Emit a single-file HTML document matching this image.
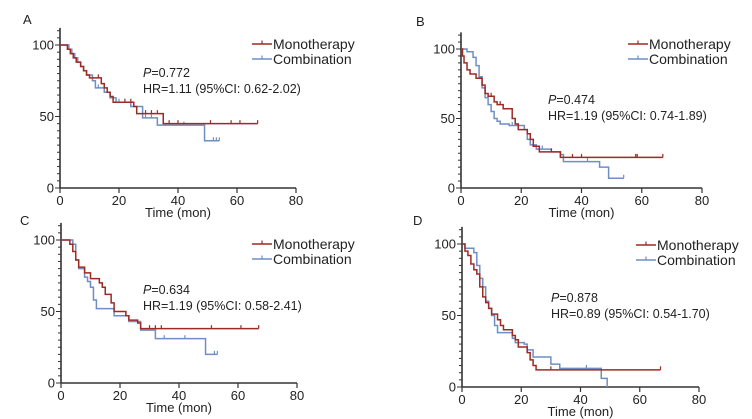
<!DOCTYPE html>
<html><head><meta charset="utf-8"><style>
body{margin:0;background:#fff}
svg{display:block;font-family:"Liberation Sans",sans-serif}
</style></head><body>
<svg id="c" width="752" height="419" viewBox="0 0 752 419"></svg>
<script>
const xTicks=[0,20,40,60,80];
const yTicks=[0,50,100];
const panelLabels=["A","B","C","D"];
const pValues=["0.772","0.474","0.634","0.878"];
const hrTexts=["HR=1.11 (95%CI: 0.62-2.02)","HR=1.19 (95%CI: 0.74-1.89)","HR=1.19 (95%CI: 0.58-2.41)","HR=0.89 (95%CI: 0.54-1.70)"];
const monoA=[[0,100],[2.5,97],[3.5,94],[4.5,91],[5.5,88],[7,85],[8,82],[9,79],[10,77],[14,73],[15,70],[16,67],[17,64],[18,60],[25,57],[26,52],[35,45],[67,45]];
const monoACens=[13,22,24,29,31,33,37,40,51,58,61,67];
const combA=[[0,100],[3,97],[4,94],[5,91],[6,88],[7,85],[8,82],[9,79],[11,75],[12,70],[15,67],[17,63],[19,60],[24,57],[28,49],[33,44],[49,33],[54,33]];
const combACens=[13,20,29,31,42,52,53,54];
const monoB=[[0,100],[0.5,95],[1,90],[2,85],[3,82],[5,79],[7,74],[8,68],[9,66],[11,62],[12,60],[14,57],[17,50],[18,46],[19,42],[22,39],[23,35],[24,30],[26,26],[33,22],[67,22]];
const monoBCens=[10,13,30,33,37,40,58,58.5,67];
const combB=[[0,100],[2,98],[4,94],[5,88],[6,80],[7,72],[8,65],[9,60],[10,55],[11,50],[12,48],[13,46],[16,45],[21,42],[22,35],[23,31],[25,28],[30,26],[33,24],[34,19],[46,15],[49,7],[54,7]];
const combBCens=[17,27,42,54];
const monoC=[[0,100],[3,97],[4,92],[5,86],[6,81],[8,77],[10,73],[13,70],[14,67],[15,62],[17,56],[18,50],[22,47],[23,44],[26,42],[27,38],[67,38]];
const monoCCens=[22,30,32,34,51,61,67];
const combC=[[0,100],[4,97],[5,86],[6,80],[8,74],[9,71],[10,67],[11,58],[12,52],[18,47],[23,43],[27,37],[32,31],[49,20],[53,20]];
const combCCens=[4,10,35,42,52,53];
const monoD=[[0,100],[1,95],[2,92],[3,86],[4,82],[5,79],[6,70],[7,63],[8,59],[9,55],[10,51],[12,47],[13,43],[14,40],[17,36],[18,33],[19,28],[22,24],[23,19],[24,15],[25,12],[67,12]];
const monoDCens=[30,67];
const combD=[[0,100],[1,97],[4,94],[5,85],[6,76],[7,70],[8,60],[9,55],[10,50],[11,43],[12,38],[17,34],[18,31],[21,30],[22,26],[24,21],[30,16],[33,13],[47,6],[49,0]];
const combDCens=[42];

const panels=[
 {x0:60,x1:296,y0:188,y1:45,lab:[23,24],leg:[252,44],st:[143,77],mono:monoA,mc:monoACens,comb:combA,cc:combACens},
 {x0:461,x1:702,y0:188,y1:49,lab:[416,26],leg:[628,44],st:[548,104],mono:monoB,mc:monoBCens,comb:combB,cc:combBCens},
 {x0:61,x1:297,y0:383,y1:240,lab:[20,225],leg:[252,244],st:[143,294],mono:monoC,mc:monoCCens,comb:combC,cc:combCCens},
 {x0:462,x1:699,y0:387,y1:244,lab:[413,225],leg:[636,245],st:[551,302],mono:monoD,mc:monoDCens,comb:combD,cc:combDCens}
];
const NS="http://www.w3.org/2000/svg";
const svg=document.getElementById('c');
function mk(t,a,p){const e=document.createElementNS(NS,t);for(const k in a)e.setAttribute(k,a[k]);(p||svg).appendChild(e);return e;}
const RED="#9e2a24",BLUE="#6f8fc4";
panels.forEach((P,i)=>{
 const sx=v=>P.x0+(P.x1-P.x0)*v/80;
 const sy=v=>P.y0+(P.y1-P.y0)*v/100;
 const g=mk('g',{});
 
 
 const lab=mk('text',{x:P.lab[0],y:P.lab[1],'font-size':13,fill:'#222'},g);lab.textContent=panelLabels[i];
 
 const ya=mk('line',{x1:P.x0,x2:P.x0,y1:P.y0,y2:sy(112),stroke:'#333','stroke-width':1.6},g);
 
 for(let v=0;v<=110;v+=5){mk('line',{x1:P.x0-(v%50==0?5:3),x2:P.x0,y1:sy(v),y2:sy(v),stroke:'#333','stroke-width':1},g);}
 yTicks.forEach(v=>{const t=mk('text',{x:P.x0-6,y:sy(v)+4.5,'font-size':13,'text-anchor':'end',fill:'#222'},g);t.textContent=v;
  });
 const xa=mk('line',{x1:P.x0,x2:P.x1,y1:P.y0,y2:P.y0,stroke:'#333','stroke-width':1.6},g);
 
 xTicks.forEach(v=>{mk('line',{x1:sx(v),x2:sx(v),y1:P.y0,y2:P.y0+5,stroke:'#333','stroke-width':1.2},g);
  const t=mk('text',{x:sx(v),y:P.y0+17,'font-size':13,'text-anchor':'middle',fill:'#222'},g);t.textContent=v;
  });
 const xt=mk('text',{x:(P.x0+P.x1)/2,y:P.y0+29,'font-size':13,'text-anchor':'middle',fill:'#222'},g);xt.textContent='Time (mon)';
 
 function series(data,cens,col,name){
  let d='M'+sx(data[0][0])+' '+sy(data[0][1]);
  for(let k=1;k<data.length;k++){d+=' H'+sx(data[k][0])+' V'+sy(data[k][1]);}
  const p=mk('path',{d:d,fill:'none',stroke:col,'stroke-width':1.5},g);
  
  cens.forEach(t=>{let s=data[0][1];data.forEach(q=>{if(q[0]<=t)s=q[1];});
   const m=mk('line',{x1:sx(t),x2:sx(t),y1:sy(s),y2:sy(s)-3.5,stroke:col,'stroke-width':1.2},g);
   });
 }
 series(P.comb,P.cc,BLUE,'combination');
 series(P.mono,P.mc,RED,'monotherapy');
 [[RED,'Monotherapy',0],[BLUE,'Combination',15]].forEach(L=>{
  const lg=mk('g',{},g);
  const y=P.leg[1]+L[2];
  mk('line',{x1:P.leg[0],x2:P.leg[0]+20,y1:y,y2:y,stroke:L[0],'stroke-width':1.6},lg);
  mk('line',{x1:P.leg[0]+10,x2:P.leg[0]+10,y1:y,y2:y-3.5,stroke:L[0],'stroke-width':1.2},lg);
  const t=mk('text',{x:P.leg[0]+21,y:y+5,'font-size':14,fill:'#222'},lg);t.textContent=L[1];});
 const pt=mk('text',{x:P.st[0],y:P.st[1],'font-size':12.5,fill:'#222'},g);
 
 const ts=mk('tspan',{'font-style':'italic'},pt);ts.textContent='P';
 const ts2=mk('tspan',{},pt);ts2.textContent='='+pValues[i];
 const hr=mk('text',{x:P.st[0],y:P.st[1]+16,'font-size':12.5,fill:'#222'},g);hr.textContent=hrTexts[i];
 
});
</script>
</body></html>
